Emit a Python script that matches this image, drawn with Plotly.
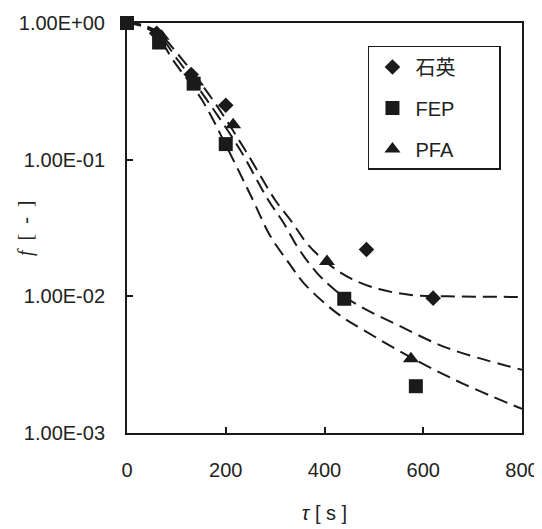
import plotly.graph_objects as go

# Measured data
quartz_t = [60, 130, 200, 485, 620]
quartz_f = [0.84, 0.42, 0.25, 0.022, 0.0097]
fep_t = [0, 65, 135, 200, 440, 585]
fep_f = [1.0, 0.72, 0.36, 0.13, 0.0096, 0.0022]
pfa_t = [70, 140, 215, 405, 575]
pfa_f = [0.80, 0.37, 0.18, 0.018, 0.0035]

# Fitted curves
fit_top_t = [0, 30, 60, 113, 174, 239, 300, 334, 367, 413, 455, 510, 579, 650, 800]
fit_top_f = [1.0, 0.97, 0.87, 0.536, 0.273, 0.118, 0.0507, 0.035, 0.0238, 0.0167, 0.0134, 0.0113, 0.0102, 0.0100, 0.0099]
fit_mid_t = [0, 30, 60, 103, 162, 229, 286, 316, 348, 385, 423, 476, 547, 648, 800]
fit_mid_f = [1.0, 0.96, 0.85, 0.536, 0.273, 0.118, 0.0507, 0.035, 0.0222, 0.0148, 0.011, 0.0083, 0.0062, 0.0042, 0.0029]
fit_low_t = [0, 30, 60, 93, 152, 205, 255, 289, 328, 358, 399, 435, 478, 573, 680, 800]
fit_low_f = [1.0, 0.95, 0.82, 0.536, 0.273, 0.118, 0.0507, 0.0281, 0.0175, 0.0125, 0.009, 0.0071, 0.0057, 0.0036, 0.0023, 0.0015]

x_ticks = [0, 200, 400, 600, 800]
y_ticks = [1, 0.1, 0.01, 0.001]
y_tick_text = ["1.00E+00", "1.00E-01", "1.00E-02", "1.00E-03"]

ink = "#1a1a1a"
pad = "\u00a0" * 7
sp = "\u00a0"
fig = go.Figure()
for t, f in [(fit_top_t, fit_top_f), (fit_mid_t, fit_mid_f), (fit_low_t, fit_low_f)]:
    fig.add_trace(go.Scatter(x=t, y=f, mode="lines", showlegend=False,
                             line=dict(color=ink, width=2, dash="14px,7px", shape="spline", smoothing=1.0),
                             hoverinfo="skip"))

fig.add_trace(go.Scatter(x=quartz_t, y=quartz_f, mode="markers", name="石英" + pad, legendgroup="a",
                         marker=dict(symbol="diamond", size=12, color=ink), cliponaxis=False))
fig.add_trace(go.Scatter(x=fep_t, y=fep_f, mode="markers", name="FEP" + pad, legendgroup="b",
                         marker=dict(symbol="square", size=14, color=ink), cliponaxis=False))
fig.add_trace(go.Scatter(x=pfa_t, y=pfa_f, mode="markers", name="PFA" + pad, legendgroup="c",
                         marker=dict(symbol="triangle-up", size=14, color=ink), cliponaxis=False))

font_family = "Liberation Sans, Arial, sans-serif"
fig.update_layout(
    width=534, height=521,
    margin=dict(l=119, r=20, t=15, b=96),
    paper_bgcolor="white", plot_bgcolor="white",
    font=dict(family=font_family, size=20, color="#222"),
    showlegend=True,
    legend=dict(x=0.61, y=0.944, xanchor="left", yanchor="top",
                bordercolor=ink, borderwidth=1.5, bgcolor="white",
                font=dict(size=20, family="Liberation Sans, Noto Sans CJK JP, sans-serif"),
                traceorder="grouped", tracegroupgap=12, itemwidth=36),
    xaxis=dict(range=[0, 800], tickvals=x_ticks, ticks="inside", ticklen=6, tickwidth=2,
               tickcolor=ink, showline=True, linecolor=ink, linewidth=2, mirror=True,
               showgrid=False, zeroline=False, automargin=False, ticklabelstandoff=18,
               title=dict(text="<i>τ</i>" + sp + "[" + sp + "s" + sp + "]", font=dict(size=20), standoff=26)),
    yaxis=dict(type="log", range=[-3, 0], tickvals=y_ticks, ticktext=y_tick_text,
               ticks="inside", ticklen=6, tickwidth=2, tickcolor=ink,
               showline=True, linecolor=ink, linewidth=2, mirror=True,
               showgrid=False, zeroline=False, automargin=False, ticklabelstandoff=16),
    annotations=[dict(text="<i>f</i>" + sp * 2 + "[" + sp * 2 + "-" + sp * 2 + "]",
                      xref="paper", yref="paper", x=-0.258, y=0.5,
                      xanchor="center", yanchor="middle", textangle=-90, showarrow=False,
                      font=dict(size=20, family="Liberation Serif, serif", color="#222"))],
)
fig.write_html("out.html")
